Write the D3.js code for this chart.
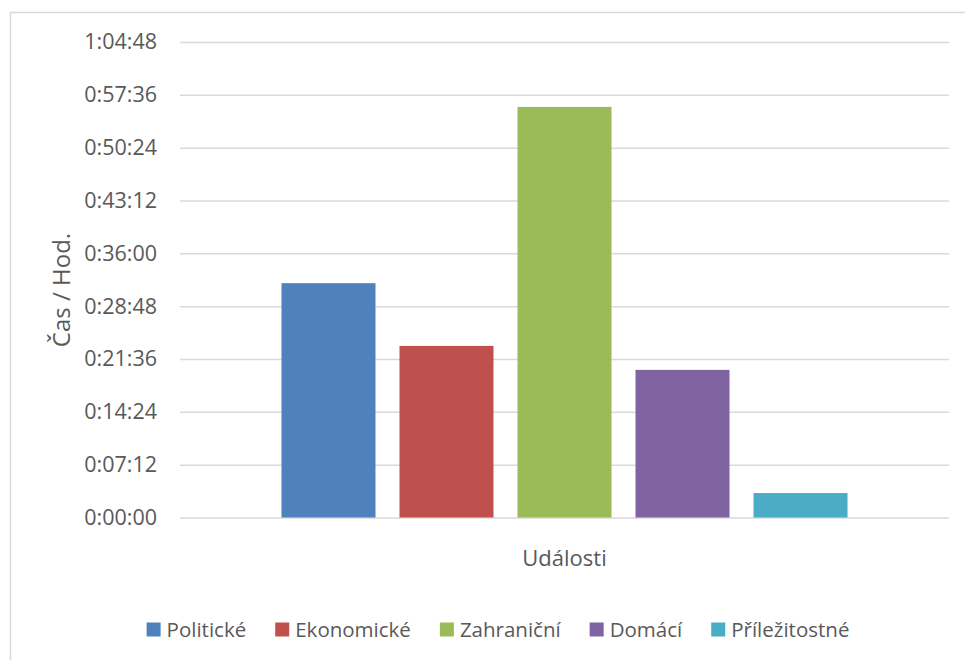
<!DOCTYPE html>
<html>
<head>
<meta charset="utf-8">
<script src="https://cdn.jsdelivr.net/npm/d3@7"></script>
<style>
  html, body { margin: 0; padding: 0; background: #fff; }
  svg { display: block; font-family: "Open Sans", sans-serif; }
</style>
</head>
<body>
<div id="chart"></div>
<script>
// Time per event category (seconds), single category cluster
const category = 'Události';
const series = ['Politické', 'Ekonomické', 'Zahraniční', 'Domácí', 'Příležitostné'];
const values = [1916, 1403, 3357, 1207, 200];
const colors = ['#4f81bd', '#c0504d', '#9bbb59', '#8064a2', '#4bacc6'];
const tickValues = [0, 432, 864, 1296, 1728, 2160, 2592, 3024, 3456, 3888];
const tickLabels = ['0:00:00', '0:07:12', '0:14:24', '0:21:36', '0:28:48', '0:36:00', '0:43:12', '0:50:24', '0:57:36', '1:04:48'];
const yTitle = 'Čas / Hod.';

(function(){
  const width = 965, height = 660;
  const plot = { left: 180, right: 949, top: 42, bottom: 517.5 };

  const svg = d3.select('#chart').append('svg')
    .attr('width', width).attr('height', height);

  // chart frame (extends past the window on right/bottom)
  svg.append('rect')
    .attr('x', 10.5).attr('y', 12.5)
    .attr('width', 1000).attr('height', 700)
    .attr('fill', 'none').attr('stroke', '#d9d9d9').attr('stroke-width', 1.5);

  const x0 = d3.scaleBand().domain([category]).range([plot.left, plot.right]);
  const x1 = d3.scaleBand().domain(series)
    .range([0, x0.bandwidth()])
    .paddingInner(24 / 118)
    .paddingOuter(0.86);
  const y = d3.scaleLinear().domain([0, 3888]).range([plot.bottom, plot.top]);

  // gridlines + tick labels
  const yAxis = d3.axisLeft(y)
    .tickValues(tickValues)
    .tickFormat((d, i) => tickLabels[i])
    .tickSize(-(plot.right - plot.left))
    .tickPadding(23);
  svg.append('g')
    .attr('transform', `translate(${plot.left},0)`)
    .call(yAxis)
    .call(g => g.select('.domain').remove())
    .call(g => g.selectAll('.tick line').attr('stroke', '#d9d9d9').attr('stroke-width', 1.5))
    .call(g => g.selectAll('.tick text')
      .attr('fill', '#595959').style('font-size', '21.5px').style('font-family', '"Open Sans", sans-serif'));

  // bars
  svg.append('g')
    .selectAll('rect')
    .data(series.map((s, i) => ({ s, v: values[i], c: colors[i] })))
    .enter().append('rect')
    .attr('x', d => x0(category) + x1(d.s))
    .attr('y', d => y(d.v))
    .attr('width', x1.bandwidth())
    .attr('height', d => y(0) - y(d.v))
    .attr('fill', d => d.c);

  // axis titles
  svg.append('text')
    .attr('x', (plot.left + plot.right) / 2).attr('y', 566)
    .attr('text-anchor', 'middle')
    .attr('fill', '#595959').style('font-size', '22px')
    .text(category);

  svg.append('text')
    .attr('transform', `translate(70,290) rotate(-90)`)
    .attr('text-anchor', 'middle')
    .attr('fill', '#595959').style('font-size', '24px')
    .text(yTitle);

  // legend, centred on the frame
  const legend = svg.append('g');
  const items = legend.selectAll('g').data(series).enter().append('g');
  items.append('rect')
    .attr('width', 14).attr('height', 14).attr('y', -14)
    .attr('fill', (d, i) => colors[i]);
  items.append('text')
    .attr('x', 20).attr('y', 0)
    .attr('fill', '#595959').style('font-size', '20.5px')
    .text(d => d);
  let cx = 0;
  items.each(function(){
    const w = this.querySelector('text').getComputedTextLength() + 20;
    d3.select(this).attr('transform', `translate(${cx},0)`);
    cx += w + 29;
  });
  const total = cx - 29;
  legend.attr('transform', `translate(${498 - total / 2},636.5)`);
})();
</script>
</body>
</html>
